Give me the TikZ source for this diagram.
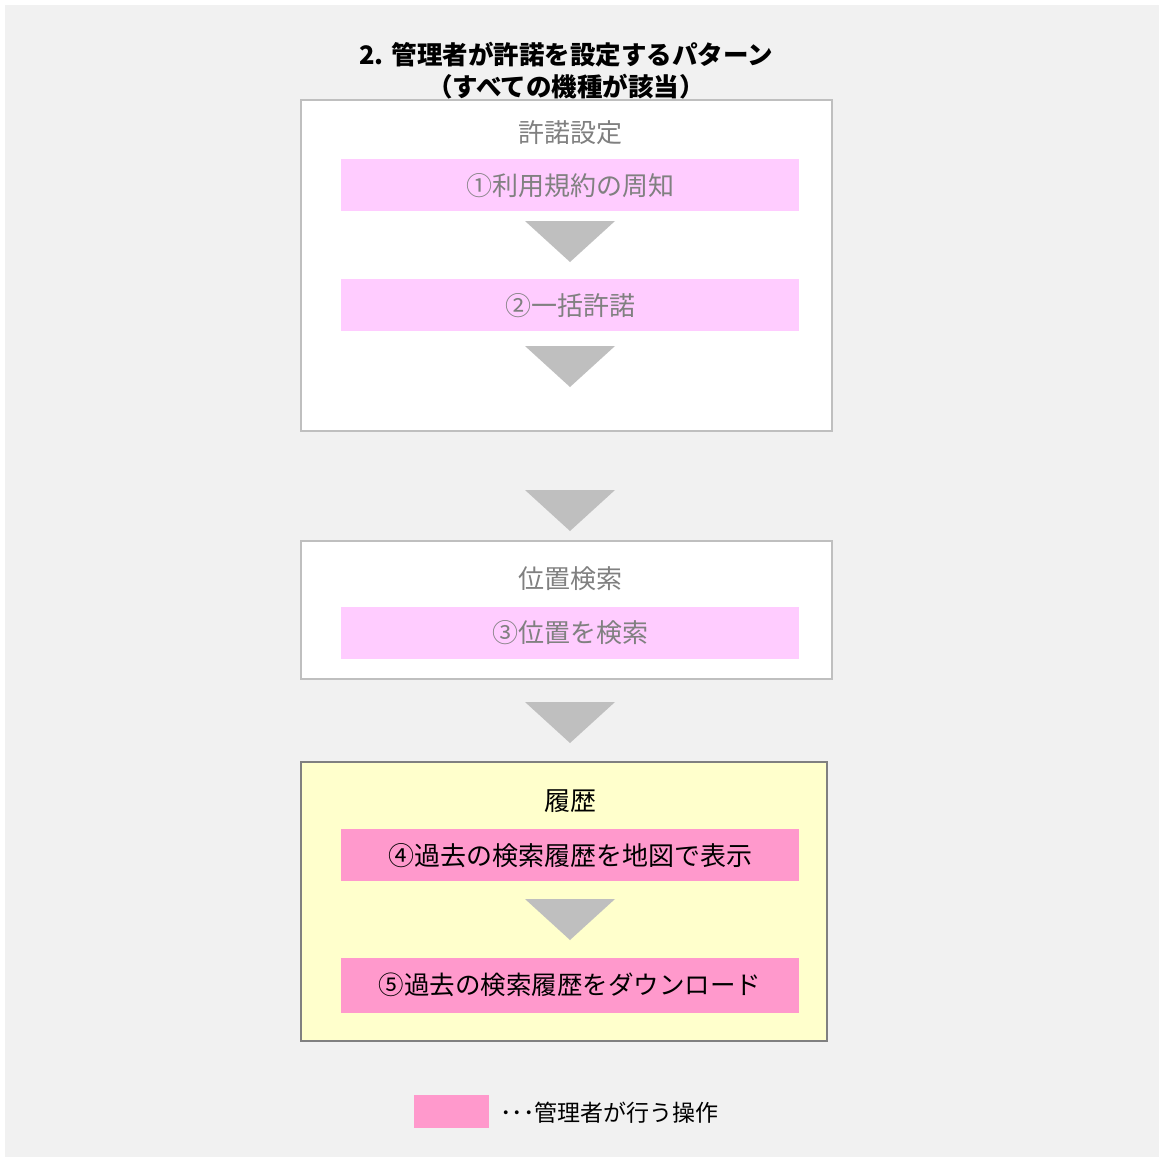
\documentclass[tikz,border=0pt]{standalone}
\usepackage{fontspec}
\setmainfont{Noto Sans CJK JP}
\definecolor{bgray}{HTML}{F1F1F1}
\definecolor{bordergray}{HTML}{BFBFBF}
\definecolor{txtgray}{HTML}{808080}
\definecolor{lightpink}{HTML}{FFCCFF}
\definecolor{darkpink}{HTML}{FF99CC}
\definecolor{lightyellow}{HTML}{FFFFCC}
\definecolor{arrowgray}{HTML}{BFBFBF}
\tikzset{
  px/.style={x=1pt,y=-1pt},
  groupbox/.style={draw=bordergray,line width=2pt,fill=white},
  activebox/.style={draw=txtgray,line width=2pt,fill=lightyellow},
  bar/.style={fill=lightpink},
  activebar/.style={fill=darkpink},
  lbl/.style={font=\fontsize{26}{30}\selectfont,text=txtgray,inner sep=0pt},
  activelbl/.style={font=\fontsize{26}{30}\selectfont,text=black,inner sep=0pt},
  downtri/.style={fill=arrowgray}
}
\newcommand{\downarrowat}[2]{\fill[downtri] (#1-45,#2) -- (#1+45,#2) -- (#1,#2+41) -- cycle;}
\begin{document}
\begin{tikzpicture}[px]
\useasboundingbox (0,0) rectangle (1159,1157);
\fill[white] (0,0) rectangle (1159,1157);
\fill[bgray] (5,5) rectangle (1159,1157);
% title
\node[font=\bfseries\fontsize{25.5}{32}\selectfont,align=center,inner sep=0pt,anchor=center] (title) at (566,71)
  {2. 管理者が許諾を設定するパターン\\（すべての機種が該当）};
% box 1
\draw[groupbox] (301,100) rectangle (832,431);
\node[lbl] (g1) at (570,133) {許諾設定};
\fill[bar] (341,159) rectangle (799,211);
\node[lbl] (s1) at (570,186) {①利用規約の周知};
\downarrowat{570}{221}
\fill[bar] (341,279) rectangle (799,331);
\node[lbl] (s2) at (570,306) {②一括許諾};
\downarrowat{570}{346}
% between boxes
\downarrowat{570}{490}
% box 2
\draw[groupbox] (301,541) rectangle (832,679);
\node[lbl] (g2) at (570,579) {位置検索};
\fill[bar] (341,607) rectangle (799,659);
\node[lbl] (s3) at (570,633) {③位置を検索};
\downarrowat{570}{702}
% box 3
\draw[activebox] (301,762) rectangle (827,1041);
\node[activelbl] (g3) at (570,801) {履歴};
\fill[activebar] (341,829) rectangle (799,881);
\node[activelbl] (s4) at (570,856) {④過去の検索履歴を地図で表示};
\downarrowat{570}{899}
\fill[activebar] (341,958) rectangle (799,1013);
\node[activelbl,font=\fontsize{25.5}{30}\selectfont] (s5) at (570,985) {⑤過去の検索履歴をダウンロード};
% legend
\fill[activebar] (414,1095) rectangle (489,1128);
\node[font=\fontsize{23}{27}\selectfont,anchor=west,inner sep=0pt] (legend) at (500,1113) {･･･管理者が行う操作};
\end{tikzpicture}
\end{document}
